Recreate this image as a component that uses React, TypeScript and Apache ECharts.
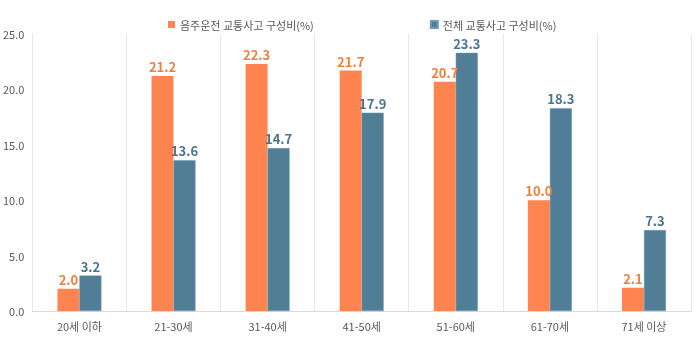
import React, { useEffect, useRef } from "react";
import * as echarts from "echarts";

const categories = ["20세 이하", "21-30세", "31-40세", "41-50세", "51-60세", "61-70세", "71세 이상"];
const drunkShare = [2.0, 21.2, 22.3, 21.7, 20.7, 10.0, 2.1];
const totalShare = [3.2, 13.6, 14.7, 17.9, 23.3, 18.3, 7.3];
const seriesNames = ["음주운전 교통사고 구성비(%)", "전체 교통사고 구성비(%)"];

const FONT = "'Noto Sans CJK KR', 'Noto Sans', sans-serif";

export default function App() {
  const ref = useRef<HTMLDivElement>(null);
  useEffect(() => {
    const chart = echarts.init(ref.current!, null, { renderer: "svg" });
    chart.setOption({
      animation: false,
      textStyle: { fontFamily: FONT },
      legend: {
        top: 14,
        left: 163,
        itemWidth: 7,
        itemHeight: 7,
        itemGap: 116,
        icon: "rect",
        textStyle: { fontSize: 11, color: "#595959", fontFamily: FONT },
        data: seriesNames,
      },
      grid: { left: 31, right: 7, top: 34, bottom: 26 },
      xAxis: {
        type: "category",
        data: categories,
        axisLine: { lineStyle: { color: "#d9d9d9" } },
        axisTick: { show: false },
        axisLabel: { fontSize: 11, color: "#595959", margin: 9, fontFamily: FONT },
        splitLine: { show: true, lineStyle: { color: "#e6e6e6" } },
      },
      yAxis: {
        type: "value",
        min: 0,
        max: 25,
        interval: 5,
        axisLine: { show: true, lineStyle: { color: "#e6e6e6" } },
        axisTick: { show: false },
        splitLine: { show: false },
        axisLabel: {
          fontSize: 11,
          color: "#595959",
          margin: 8,
          formatter: (v: number) => v.toFixed(1),
          fontFamily: FONT,
        },
      },
      series: [
        {
          name: seriesNames[0],
          type: "bar",
          data: drunkShare,
          barWidth: 22,
          barGap: "0%",
          itemStyle: { color: "#FF8450" },
          label: {
            show: true,
            position: "top",
            formatter: (p: any) => p.value.toFixed(1),
            color: "#F07F3A",
            fontWeight: "bold",
            fontSize: 13,
            distance: 3,
            fontFamily: FONT,
          },
        },
        {
          name: seriesNames[1],
          type: "bar",
          data: totalShare,
          barWidth: 22,
          itemStyle: { color: "#4F7E96", borderColor: "#6f9bb5", borderWidth: 0.5 },
          label: {
            show: true,
            position: "top",
            formatter: (p: any) => p.value.toFixed(1),
            color: "#4A7591",
            fontWeight: "bold",
            fontSize: 13,
            distance: 3,
            fontFamily: FONT,
          },
        },
      ],
    });
    return () => chart.dispose();
  }, []);
  return (
    <div
      ref={ref}
      style={{ position: "fixed", left: 0, top: 0, width: 698, height: 337, overflow: "hidden" }}
    />
  );
}
